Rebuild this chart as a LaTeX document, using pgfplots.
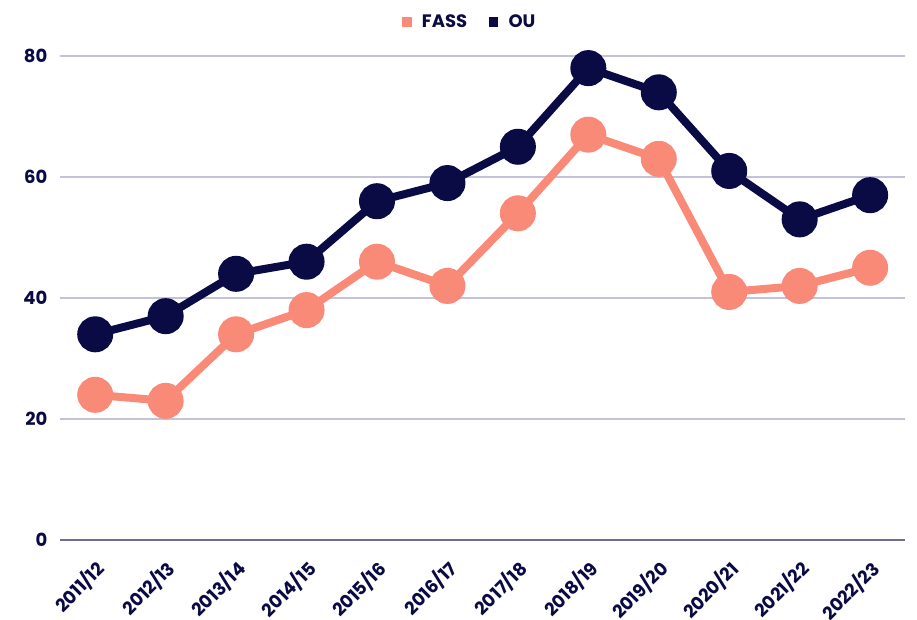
\documentclass[border=0pt]{standalone}
\usepackage{pgfplots}
\pgfplotsset{compat=1.18}
\usepackage{fontspec}
\setmainfont{Poppins}
\definecolor{navy}{HTML}{0A0A45}
\definecolor{salmon}{HTML}{F98A78}
\definecolor{gridc}{HTML}{C3C2D9}
\definecolor{axisc}{HTML}{6E6C94}
\begin{document}
\begin{tikzpicture}
\begin{axis}[
  at={(0pt,0pt)}, anchor=south west,
  scale only axis,
  width=634pt, height=363pt,
  xmin=-0.5, xmax=11.5, ymin=0, ymax=80,
  xtick={0,...,11},
  xticklabels={2011/12,2012/13,2013/14,2014/15,2015/16,2016/17,2017/18,2018/19,2019/20,2020/21,2021/22,2022/23},
  ytick={0,20,40,60,80},
  axis x line*=bottom, axis y line*=left,
  y axis line style={draw=none},
  x axis line style={draw=axisc, line width=1.2pt, -},
  major tick length=0pt,
  ymajorgrids, grid style={draw=gridc, line width=0.8pt},
  tick label style={font=\fontsize{13.5}{15}\selectfont\bfseries, text=navy},
  /pgf/number format/assume math mode=true,
  yticklabel style={xshift=-6pt},
  xticklabel style={xshift=-1pt, yshift=-12pt, rotate=45, anchor=north east, inner sep=1pt},
  legend style={at={(axis description cs:0.485,1.07)}, anchor=center, draw=none, fill=none,
    legend columns=2, font=\fontsize{13.5}{15}\selectfont\bfseries, text=navy,
    /tikz/every even column/.append style={column sep=14pt}},
  clip=false,
]
\addplot[salmon, line width=6pt, mark=*, mark size=10.5pt, mark options={solid, fill=salmon, draw=none},
  legend image code/.code={\fill[salmon, draw=none] (0pt,-3.7pt) rectangle (7.4pt,3.7pt); \path[draw=none] (0pt,0pt) -- (13pt,0pt);}]
  coordinates {(0,24)(1,23)(2,34)(3,38)(4,46)(5,42)(6,54)(7,67)(8,63)(9,41)(10,42)(11,45)};
\addlegendentry{FASS}
\addplot[navy, line width=6pt, mark=*, mark size=10.5pt, mark options={solid, fill=navy, draw=none},
  legend image code/.code={\fill[navy, draw=none] (0pt,-3.7pt) rectangle (7.4pt,3.7pt); \path[draw=none] (0pt,0pt) -- (13pt,0pt);}]
  coordinates {(0,34)(1,37)(2,44)(3,46)(4,56)(5,59)(6,65)(7,78)(8,74)(9,61)(10,53)(11,57)};
\addlegendentry{OU}
\end{axis}
\pgfresetboundingbox
\useasboundingbox (-45pt,-59.25pt) rectangle (642.75pt,405pt);
\end{tikzpicture}
\end{document}
